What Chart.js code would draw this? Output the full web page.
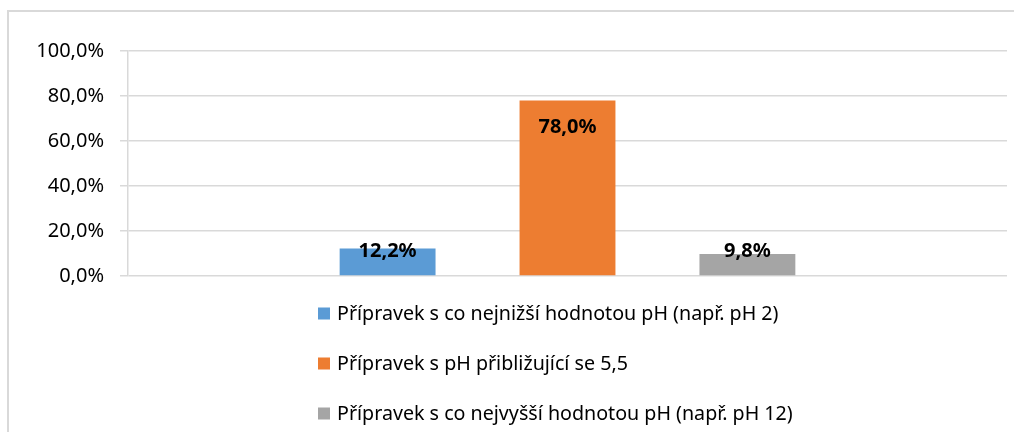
<!DOCTYPE html>
<html>
<head>
<meta charset="utf-8">
<script src="https://cdn.jsdelivr.net/npm/chart.js@4/dist/chart.umd.min.js"></script>
<style>
  html, body { margin: 0; padding: 0; background: #ffffff; }
  #wrap { position: relative; width: 1014px; height: 432px; }
</style>
</head>
<body>
<div id="wrap"><canvas id="c" width="1014" height="432"></canvas></div>
<script>
// ---- data ----
const categories = [''];
const seriesNames = [
  'Přípravek s co nejnižší hodnotou pH (např. pH 2)',
  'Přípravek s pH přibližující se 5,5',
  'Přípravek s co nejvyšší hodnotou pH (např. pH 12)'
];
const lowPhValues = [12.2];
const midPhValues = [78.0];
const highPhValues = [9.8];
const tickValues = [0, 20, 40, 60, 80, 100];
const tickLabels = ['0,0%', '20,0%', '40,0%', '60,0%', '80,0%', '100,0%'];

const colors = ['#5b9bd5', '#ed7d31', '#a5a5a5'];
const FONT = "'Noto Sans', 'Open Sans', sans-serif";

function fmtPct(v) { return v.toFixed(1).replace('.', ',') + '%'; }

const frame = {
  id: 'frame',
  beforeDraw(chart) {
    const ctx = chart.ctx;
    ctx.save();
    ctx.strokeStyle = '#d9d9d9';
    ctx.lineWidth = 2;
    ctx.beginPath();
    ctx.moveTo(8, 432);
    ctx.lineTo(8, 11);
    ctx.lineTo(1014, 11);
    ctx.stroke();
    ctx.restore();
  }
};

const valueLabels = {
  id: 'valueLabels',
  afterDatasetsDraw(chart) {
    const ctx = chart.ctx;
    ctx.save();
    ctx.font = 'bold 20px ' + FONT;
    ctx.fillStyle = '#000000';
    ctx.textAlign = 'center';
    ctx.textBaseline = 'middle';
    chart.data.datasets.forEach((ds, i) => {
      const meta = chart.getDatasetMeta(i);
      meta.data.forEach((el, j) => {
        const y = Math.min(el.y + 27, el.base - 24);
        ctx.fillText(fmtPct(ds.data[j]), el.x, y);
      });
    });
    ctx.restore();
  }
};

const stackedLegend = {
  id: 'stackedLegend',
  afterDraw(chart) {
    const ctx = chart.ctx;
    ctx.save();
    let size = 20;
    ctx.font = size + 'px ' + FONT;
    const w = ctx.measureText(seriesNames[0]).width;
    size = size * 442 / w;
    ctx.font = size + 'px ' + FONT;
    ctx.textBaseline = 'middle';
    ctx.textAlign = 'left';
    const x0 = 318, y0 = 313.5, step = 50;
    chart.data.datasets.forEach((ds, i) => {
      const cy = y0 + i * step;
      ctx.fillStyle = ds.backgroundColor;
      ctx.fillRect(x0, cy - 6, 12, 12);
      ctx.fillStyle = '#000000';
      ctx.fillText(ds.label, 337, cy + 1);
    });
    ctx.restore();
  }
};

new Chart(document.getElementById('c'), {
  type: 'bar',
  data: {
    labels: categories,
    datasets: [
      { label: seriesNames[0], data: lowPhValues, backgroundColor: colors[0] },
      { label: seriesNames[1], data: midPhValues, backgroundColor: colors[1] },
      { label: seriesNames[2], data: highPhValues, backgroundColor: colors[2] }
    ]
  },
  options: {
    responsive: false,
    animation: false,
    layout: { padding: { top: 51, right: 7, bottom: 156, left: 0 } },
    datasets: { bar: { categoryPercentage: 0.614, barPercentage: 0.533 } },
    plugins: {
      legend: { display: false },
      tooltip: { enabled: false },
      title: { display: false }
    },
    scales: {
      x: { display: false },
      y: {
        min: 0,
        max: 100,
        afterBuildTicks(scale) { scale.ticks = tickValues.map(v => ({ value: v })); },
        afterFit(scale) { scale.width = 128; },
        ticks: {
          padding: 16,
          color: '#000000',
          font: { family: FONT, size: 20 },
          callback: (v) => tickLabels[tickValues.indexOf(v)]
        },
        grid: { color: '#d9d9d9', lineWidth: 1.5, tickLength: 8, drawTicks: true },
        border: { display: true, color: '#d9d9d9', width: 1.5 }
      }
    }
  },
  plugins: [frame, valueLabels, stackedLegend]
});
</script>
</body>
</html>
